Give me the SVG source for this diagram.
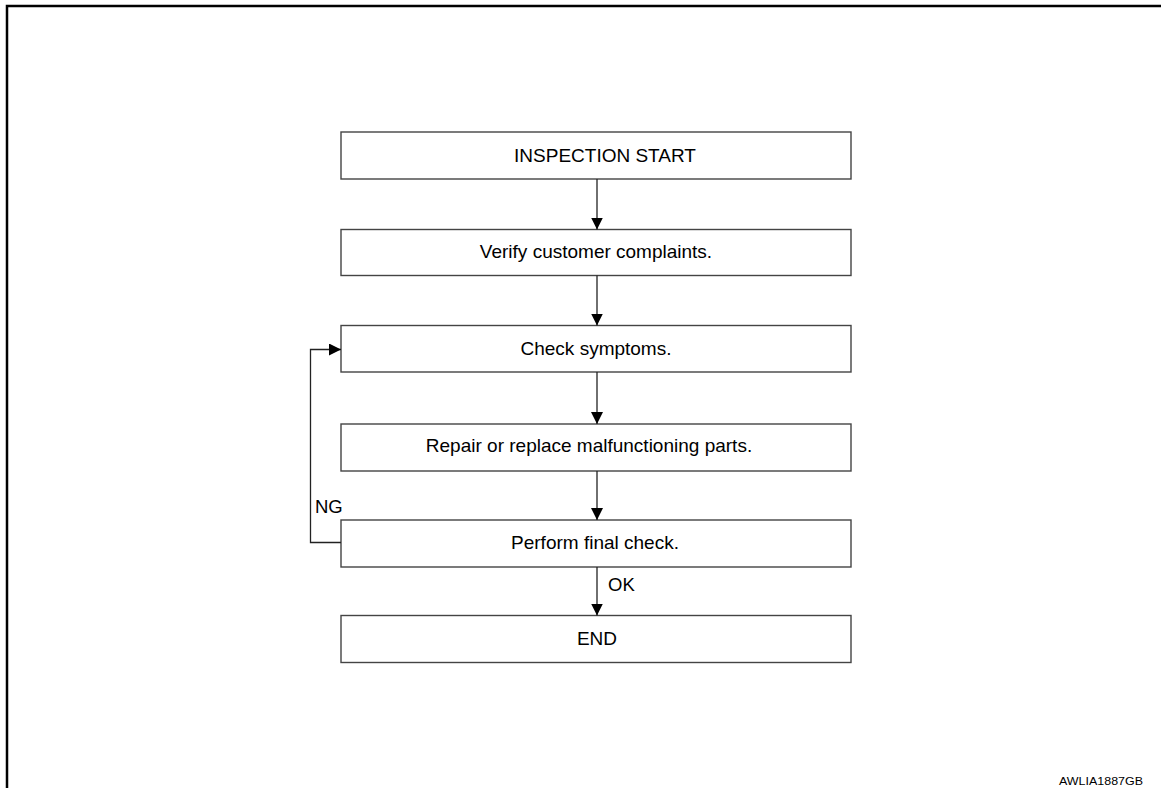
<svg xmlns="http://www.w3.org/2000/svg" width="1161" height="788" viewBox="0 0 1161 788">
<defs>
<marker id="ah" viewBox="0 0 12 12" refX="12" refY="6" markerWidth="12" markerHeight="12" markerUnits="userSpaceOnUse" orient="auto">
<path d="M0,0 L12,6 L0,12 Z" fill="#000"/>
</marker>
<style>
.box{fill:#fff;stroke:#444;stroke-width:1.4}
.t{font-family:"Liberation Sans",Arial,sans-serif;font-size:19px;fill:#000;text-anchor:middle}
.lbl{font-family:"Liberation Sans",Arial,sans-serif;font-size:18.5px;fill:#000}
.c{fill:none;stroke:#222;stroke-width:1.3}
</style>
</defs>
<rect width="1161" height="788" fill="#fff"/>
<path d="M7,788 L7,6 L1161,6" fill="none" stroke="#000" stroke-width="2.5"/>
<g id="n1"><rect class="box" x="341" y="132" width="510" height="47"/><text class="t" x="605" y="162">INSPECTION START</text></g>
<g id="n2"><rect class="box" x="341" y="229.5" width="510" height="46"/><text class="t" x="596" y="258">Verify customer complaints.</text></g>
<g id="n3"><rect class="box" x="341" y="325.5" width="510" height="46.5"/><text class="t" x="596" y="355">Check symptoms.</text></g>
<g id="n4"><rect class="box" x="341" y="424" width="510" height="47"/><text class="t" x="589" y="452">Repair or replace malfunctioning parts.</text></g>
<g id="n5"><rect class="box" x="341" y="520" width="510" height="47"/><text class="t" x="595" y="549">Perform final check.</text></g>
<g id="n6"><rect class="box" x="341" y="615.5" width="510" height="47"/><text class="t" x="597" y="645">END</text></g>
<g id="connectors">
<line class="c" x1="597" y1="179" x2="597" y2="229.5" marker-end="url(#ah)"/>
<line class="c" x1="597" y1="275.5" x2="597" y2="325.5" marker-end="url(#ah)"/>
<line class="c" x1="597" y1="372" x2="597" y2="424" marker-end="url(#ah)"/>
<line class="c" x1="597" y1="471" x2="597" y2="520" marker-end="url(#ah)"/>
<line class="c" x1="597" y1="567" x2="597" y2="615.5" marker-end="url(#ah)"/>
<polyline class="c" points="341,542.5 310.5,542.5 310.5,349.5 341,349.5" marker-end="url(#ah)"/>
<text class="lbl" x="315" y="513">NG</text>
<text class="lbl" x="608" y="591">OK</text>
</g>
<text x="1059" y="785" font-family="'Liberation Sans',Arial,sans-serif" font-size="11" textLength="84" lengthAdjust="spacingAndGlyphs" fill="#000">AWLIA1887GB</text>
</svg>
